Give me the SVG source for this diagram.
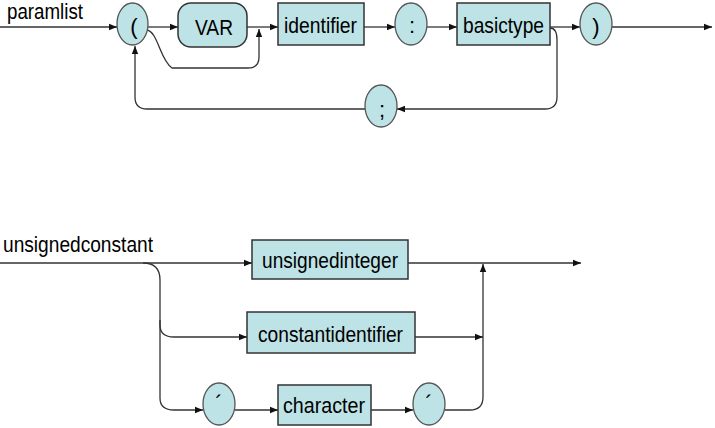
<svg xmlns="http://www.w3.org/2000/svg" width="715" height="428" viewBox="0 0 715 428">
<style>
  .t { font-family: "Liberation Sans", Arial, sans-serif; font-size: 22px; fill: #000; }
  .box { fill: #bde3e6; stroke: #333; stroke-width: 1.5; }
  .ell { fill: #bde3e6; stroke: #555; stroke-width: 1.3; }
  .ln { fill: none; stroke: #333; stroke-width: 1.3; }
  .arr { fill: none; stroke: #333; stroke-width: 1.3; marker-end: url(#ah); }
</style>
<defs>
  <marker id="ah" markerUnits="userSpaceOnUse" markerWidth="9" markerHeight="8" refX="8" refY="4" orient="auto">
    <path d="M0,0.8 L8,4 L0,7.2 z" fill="#111"/>
  </marker>
</defs>
<rect width="715" height="428" fill="#fff"/>

<g id="labels">
  <text class="t" x="7" y="19" font-size="19" textLength="76" lengthAdjust="spacingAndGlyphs">paramlist</text>
  <text class="t" x="3" y="252" font-size="21" textLength="150" lengthAdjust="spacingAndGlyphs">unsignedconstant</text>
</g>

<g id="connectors">
  <!-- paramlist -->
  <path class="arr" d="M0,27 L117,27"/>
  <path class="arr" d="M148,27 L178,27"/>
  <path class="arr" d="M247,27 L278,27"/>
  <path class="arr" d="M147,30 C158,32 160,60 172,68 L248,68 Q259,68 259,57 L259,29"/>
  <path class="arr" d="M364,27 L395,27"/>
  <path class="arr" d="M427,27 L457,27"/>
  <path class="arr" d="M550,27 L580,27"/>
  <path class="arr" d="M612,27 L712,27"/>
  <path class="arr" d="M550,28 Q557,28 557,40 L557,97 Q557,109 545,109 L397,109"/>
  <path class="arr" d="M365,109 L147,109 Q135,109 135,97 L135,46"/>
  <!-- unsignedconstant -->
  <path class="arr" d="M0,263 L252,263"/>
  <path class="arr" d="M408,263 L581,263"/>
  <path class="arr" d="M143,263 Q160,263 160,280 L160,325 Q160,337 174,337 L247,337"/>
  <path class="arr" d="M160,320 L160,398 Q160,410 174,410 L203,410"/>
  <path class="arr" d="M235,410 L278,410"/>
  <path class="arr" d="M371,410 L413,410"/>
  <path class="arr" d="M415,337 L483,337"/>
  <path class="arr" d="M445,410 L470,410 Q483,410 483,397 L483,264"/>
</g>

<g id="n-lparen">
  <ellipse class="ell" cx="132.5" cy="24" rx="15.5" ry="21"/>
  <text class="t" x="134" y="34" text-anchor="middle">(</text>
</g>
<g id="n-var">
  <rect class="box" x="178" y="3" width="69" height="44" rx="13" ry="13"/>
  <text class="t" x="195" y="35" font-size="23" textLength="38" lengthAdjust="spacingAndGlyphs">VAR</text>
</g>
<g id="n-identifier">
  <rect class="box" x="278" y="3" width="86" height="42"/>
  <text class="t" x="284" y="33" font-size="23" textLength="73" lengthAdjust="spacingAndGlyphs">identifier</text>
</g>
<g id="n-colon">
  <ellipse class="ell" cx="411" cy="24" rx="16" ry="21"/>
  <text class="t" x="412" y="33" font-size="23" text-anchor="middle">:</text>
</g>
<g id="n-basictype">
  <rect class="box" x="457" y="3" width="93" height="42"/>
  <text class="t" x="463" y="33" font-size="23" textLength="81" lengthAdjust="spacingAndGlyphs">basictype</text>
</g>
<g id="n-rparen">
  <ellipse class="ell" cx="596" cy="24" rx="16" ry="21"/>
  <text class="t" x="596" y="34" text-anchor="middle">)</text>
</g>
<g id="n-semicolon">
  <ellipse class="ell" cx="381" cy="106" rx="16" ry="21"/>
  <text class="t" x="382" y="117" font-size="23" text-anchor="middle">;</text>
</g>

<g id="n-unsignedinteger">
  <rect class="box" x="252" y="240" width="156" height="39"/>
  <text class="t" x="262" y="268" textLength="136" lengthAdjust="spacingAndGlyphs">unsignedinteger</text>
</g>
<g id="n-constantidentifier">
  <rect class="box" x="247" y="312" width="168" height="41"/>
  <text class="t" x="258" y="342" textLength="145" lengthAdjust="spacingAndGlyphs">constantidentifier</text>
</g>
<g id="n-quote1">
  <ellipse class="ell" cx="219" cy="404" rx="16" ry="21"/>
  <text class="t" x="219" y="411" text-anchor="middle">´</text>
</g>
<g id="n-character">
  <rect class="box" x="278" y="385" width="93" height="40"/>
  <text class="t" x="283" y="413" textLength="82" lengthAdjust="spacingAndGlyphs">character</text>
</g>
<g id="n-quote2">
  <ellipse class="ell" cx="429" cy="404" rx="16" ry="21"/>
  <text class="t" x="429" y="411" text-anchor="middle">´</text>
</g>
</svg>
